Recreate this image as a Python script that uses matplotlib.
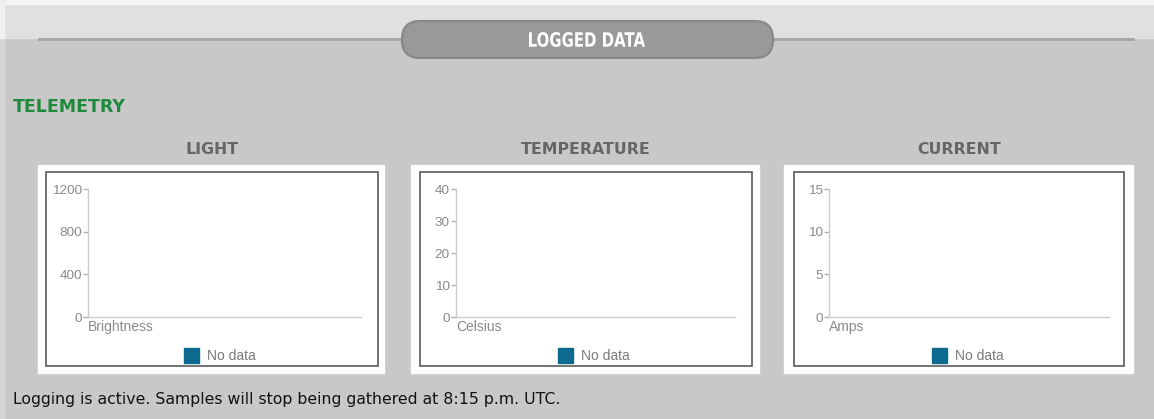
import matplotlib.pyplot as plt
from matplotlib.patches import Rectangle, FancyBboxPatch, PathPatch
from matplotlib.textpath import TextPath
from matplotlib.font_manager import FontProperties
from matplotlib.transforms import Affine2D

# telemetry panels
titles = ['LIGHT', 'TEMPERATURE', 'CURRENT']
units = ['Brightness', 'Celsius', 'Amps']
ymax = [1200, 40, 15]
yticks = [[0, 400, 800, 1200], [0, 10, 20, 30, 40], [0, 5, 10, 15]]
legend_text = 'No data'
header = 'LOGGED DATA'
section = 'TELEMETRY'
status = 'Logging is active. Samples will stop being gathered at 8:15 p.m. UTC.'

W, H = 1154, 419
fig = plt.figure(figsize=(W / 100, H / 100), dpi=100)
fig.patch.set_facecolor('#c8c8c8')

# page background, drawn in pixel units
bg = fig.add_axes([0, 0, 1, 1])
bg.set_xlim(0, W)
bg.set_ylim(H, 0)
bg.axis('off')
bg.add_patch(Rectangle((0, 0), W, 38.5, color='#e0e0e0', zorder=0))
bg.add_patch(Rectangle((0, 0), W, 4, color='#f4f4f4', zorder=0))
bg.add_patch(Rectangle((0, 0), 4, H, color='#d6d6d6', zorder=0))
bg.add_patch(Rectangle((0, 0), 4, 38.5, color='#f0f0f0', zorder=0))
bg.plot([39, 1133], [39.5, 39.5], color='#a4a4a4', lw=2, zorder=1)

# header pill with a condensed caption
bg.add_patch(FancyBboxPatch((402, 21), 371, 37,
                            boxstyle='round,pad=0,rounding_size=18',
                            fc='#999999', ec='#878787', lw=1.5, zorder=2))
tp = TextPath((0, 0), header, size=20,
              prop=FontProperties(family='DejaVu Sans', weight='bold'))
ext = tp.get_extents()
sx = 116 / ext.width
sy = 15 / ext.height
tr = (Affine2D().translate(-ext.x0, -ext.y0).scale(sx, -sy)
      .translate(529, 47) + bg.transData)
bg.add_patch(PathPatch(tp, fc='white', ec='none', transform=tr, zorder=3))

bg.text(13, 107, section, color='#1f8a3c', fontsize=12.5, fontweight='bold',
        ha='left', va='center')
bg.text(13, 399, status, color='#111111', fontsize=11.3, ha='left', va='center')

# box geometry per panel: outer white box, inner border, plot area
outer = [(38, 165, 384, 373), (411, 165, 759, 373), (784, 165, 1133, 373)]
inner = [(46, 172, 378, 366), (420, 172, 752, 366), (794, 172, 1124, 366)]
plot_x = [(88, 361), (456, 735), (829, 1109)]
plot_y = (189, 317)
swatch_x = [184, 558, 932]

for i in range(3):
    x0, y0, x1, y1 = outer[i]
    bg.add_patch(Rectangle((x0, y0), x1 - x0, y1 - y0, color='white', zorder=1))
    x0, y0, x1, y1 = inner[i]
    bg.add_patch(Rectangle((x0, y0), x1 - x0, y1 - y0, fc='none',
                           ec='#5a5a5a', lw=1.2, zorder=2))
    bg.text((outer[i][0] + outer[i][2]) / 2 + 1, 149, titles[i], color='#666666',
            fontsize=11.3, fontweight='bold', ha='center', va='center')

    # legend swatch + label
    bg.add_patch(Rectangle((swatch_x[i], 348), 15, 15, fc='#0b6a8e',
                           ec='#0b6a8e', zorder=3))
    bg.text(swatch_x[i] + 23, 355.5, legend_text, color='#7a7a7a', fontsize=10,
            family='Liberation Sans', ha='left', va='center')

    # empty chart
    px0, px1 = plot_x[i]
    ax = fig.add_axes([px0 / W, 1 - plot_y[1] / H,
                       (px1 - px0) / W, (plot_y[1] - plot_y[0]) / H])
    ax.set_facecolor('none')
    ax.set_xlim(0, 1)
    ax.set_ylim(0, ymax[i])
    ax.set_yticks(yticks[i])
    ax.set_xticks([])
    for s in ['top', 'right']:
        ax.spines[s].set_visible(False)
    for s in ['left', 'bottom']:
        ax.spines[s].set_color('#cccccc')
        ax.spines[s].set_linewidth(1)
    ax.tick_params(axis='y', length=3.5, width=1, color='#b0b0b0',
                   labelcolor='#8a8a8a', labelsize=9.7, pad=1)
    for lab in ax.get_yticklabels():
        lab.set_family('Liberation Sans')
    ax.set_xlabel(units[i], color='#8a8a8a', fontsize=10,
                  family='Liberation Sans', loc='left', labelpad=2)

fig.savefig('out.png', dpi=100, facecolor=fig.get_facecolor())
